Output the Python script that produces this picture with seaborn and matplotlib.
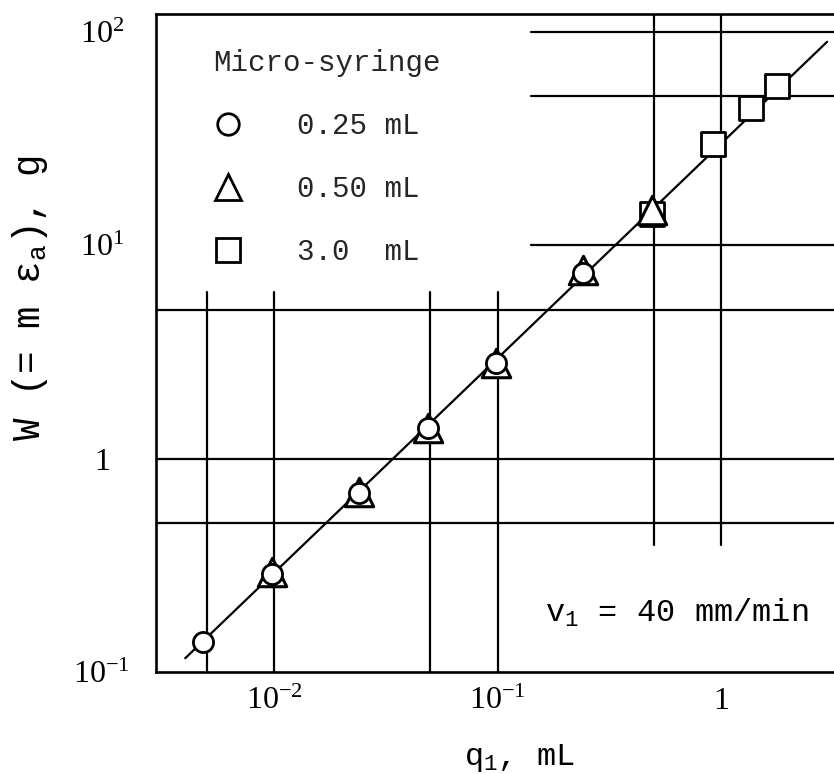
import numpy as np
import pandas as pd
import matplotlib
matplotlib.use('Agg')
import matplotlib.pyplot as plt
import matplotlib.ticker as mticker
from matplotlib.lines import Line2D
import seaborn as sns

# ---- DATA ----
# 0.25 mL micro-syringe
q_025 = [0.0048, 0.0098, 0.024, 0.049, 0.098, 0.24]
w_025 = [0.138, 0.288, 0.69, 1.39, 2.81, 7.4]
# 0.50 mL micro-syringe
q_050 = [0.0098, 0.024, 0.049, 0.098, 0.24, 0.49]
w_050 = [0.293, 0.70, 1.40, 2.82, 7.7, 14.6]
# 3.0 mL micro-syringe
q_30 = [0.49, 0.92, 1.36, 1.78]
w_30 = [14.0, 29.9, 44.0, 55.8]
# fitted line end points
line_q = [0.0040, 2.98]
line_w = [0.116, 90.0]

legend_title = 'Micro-syringe'
legend_labels = ['0.25 mL', '0.50 mL', '3.0  mL']

sns.set_theme(style='white')
plt.rcParams['font.family'] = ['Liberation Serif', 'DejaVu Serif']
plt.rcParams['mathtext.default'] = 'regular'

MONO = ['Liberation Mono', 'DejaVu Sans Mono']

fig = plt.figure(figsize=(8.34, 7.74), dpi=100)
ax = fig.add_axes([156 / 834, 1 - 672 / 774, 678 / 834, 658 / 774])
ax.set_xscale('log')
ax.set_yscale('log')
ax.set_xlim(0.00296, 3.2)
ax.set_ylim(0.1, 121.5)

# ---- partial grid lines (interrupted by legend / note) ----
glw = 1.6
for xv in [0.005, 0.01, 0.05, 0.1]:
    ax.axvline(xv, ymin=0, ymax=0.5775, color='black', lw=glw, zorder=1)
for xv in [0.5, 1.0]:
    ax.axvline(xv, ymin=0.193, ymax=1, color='black', lw=glw, zorder=1)
for yv in [0.5, 1.0, 5.0]:
    ax.axhline(yv, xmin=0, xmax=1, color='black', lw=glw, zorder=1)
for yv in [10.0, 50.0, 100.0]:
    ax.axhline(yv, xmin=0.553, xmax=1, color='black', lw=glw, zorder=1)

# ---- fitted line and data ----
sns.lineplot(x=line_q, y=line_w, ax=ax, color='black', lw=1.6, zorder=2,
             sort=False)
sns.scatterplot(x=q_30, y=w_30, ax=ax, marker='s', s=300, color='white',
                edgecolor='black', linewidth=2.0, zorder=3)
sns.scatterplot(x=q_050, y=w_050, ax=ax, marker='^', s=420, color='white',
                edgecolor='black', linewidth=2.2, zorder=4)
sns.scatterplot(x=q_025, y=w_025, ax=ax, marker='o', s=210, color='white',
                edgecolor='black', linewidth=2.0, zorder=5)

# ---- axes styling ----
for side in ['left', 'bottom', 'top']:
    ax.spines[side].set_linewidth(1.9)
    ax.spines[side].set_color('black')
ax.spines['right'].set_visible(False)

ax.xaxis.set_major_locator(mticker.LogLocator(base=10, numticks=20))
ax.yaxis.set_major_locator(mticker.LogLocator(base=10, numticks=20))
ax.xaxis.set_minor_locator(mticker.LogLocator(base=10, subs=(5.0,), numticks=20))
ax.yaxis.set_minor_locator(mticker.LogLocator(base=10, subs=(5.0,), numticks=20))


def fmt(v, pos):
    e = int(round(np.log10(v)))
    return '1' if e == 0 else '$10^{%d}$' % e


ax.xaxis.set_major_formatter(mticker.FuncFormatter(fmt))
ax.yaxis.set_major_formatter(mticker.FuncFormatter(fmt))
ax.xaxis.set_minor_formatter(mticker.NullFormatter())
ax.yaxis.set_minor_formatter(mticker.NullFormatter())
ax.tick_params(which='both', direction='in', color='black', width=1.6,
               top=False, right=False, labelsize=23, labelcolor='black')
ax.tick_params(which='major', length=15)
ax.tick_params(which='minor', length=9)
ax.tick_params(axis='x', which='major', pad=11)
ax.tick_params(axis='y', which='major', pad=39)
fig.canvas.draw()
for lbl in ax.get_yticklabels():
    lbl.set_horizontalalignment('center')

ax.set_xlabel('q$_1$, mL', family=MONO, fontsize=23, color='black',
              va='center')
ax.xaxis.set_label_coords((519 - 156) / 678, (672 - 758) / 658)
ax.set_ylabel('W (= m ε$_a$), g', family=MONO, fontsize=27, color='black',
              va='center', ha='center')
ax.yaxis.set_label_coords((30 - 156) / 678, (672 - 298) / 658)

# ---- legend ----
handles = [
    Line2D([], [], ls='', marker='o', ms=15.5, mfc='white', mec='black', mew=2.0),
    Line2D([], [], ls='', marker='^', ms=19, mfc='white', mec='black', mew=2.0),
    Line2D([], [], ls='', marker='s', ms=17, mfc='white', mec='black', mew=2.0),
]
leg = ax.legend(handles, legend_labels, title=legend_title, loc='upper left',
                bbox_to_anchor=((213 - 156) / 678, (672 - 49) / 658),
                frameon=False, borderpad=0, borderaxespad=0,
                handlelength=1.0, handletextpad=1.88, labelspacing=1.2,
                prop={'family': MONO, 'size': 21},
                title_fontproperties={'family': MONO, 'size': 21},
                alignment='left')

# ---- condition note ----
ax.text((545 - 156) / 678, (672 - 613) / 658, 'v$_1$ = 40 mm/min',
        transform=ax.transAxes, ha='left', va='center', family=MONO,
        fontsize=23, color='black')

fig.savefig('out.png', dpi=100)
